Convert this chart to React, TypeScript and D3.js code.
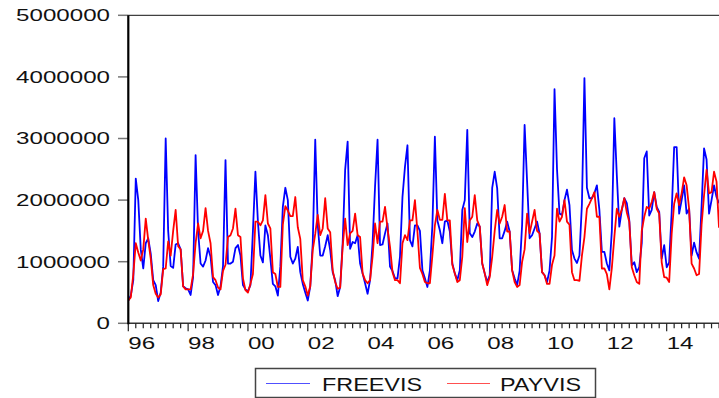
import React from "react";
import * as d3 from "d3";

// Monthly observations, 1996M01 onwards
const seriesNames = ["FREEVIS", "PAYVIS"];
const seriesColors = ["#0000ff", "#ff0000"];
const xTickLabels = ["96", "98", "00", "02", "04", "06", "08", "10", "12", "14"];
const yTickValues = [0, 1000000, 2000000, 3000000, 4000000, 5000000];
const yTickLabels = ["0", "1000000", "2000000", "3000000", "4000000", "5000000"];

const freevis = [
  370000, 450000, 700000, 2350000, 2000000, 1200000, 890000, 1300000, 1380000, 1130000, 700000, 620000,
  360000, 500000, 920000, 3000000, 1500000, 930000, 900000, 1280000, 1300000, 1200000, 600000, 570000,
  550000, 460000, 750000, 2730000, 1500000, 970000, 920000, 1020000, 1220000, 1080000, 670000, 620000,
  460000, 600000, 930000, 2650000, 970000, 970000, 1000000, 1220000, 1270000, 1100000, 620000, 550000,
  520000, 620000, 1500000, 2460000, 1650000, 1100000, 990000, 1590000, 1430000, 1050000, 640000, 600000,
  450000, 920000, 1890000, 2200000, 2000000, 1080000, 970000, 1050000, 1240000, 830000, 640000, 500000,
  370000, 600000, 1300000, 2980000, 1600000, 1100000, 1100000, 1250000, 1430000, 1190000, 830000, 700000,
  440000, 590000, 1300000, 2490000, 2950000, 1210000, 1320000, 1300000, 1430000, 970000, 810000, 650000,
  480000, 700000, 1300000, 2220000, 2980000, 1270000, 1280000, 1460000, 1620000, 920000, 850000, 730000,
  730000, 1080000, 2050000, 2540000, 2890000, 1350000, 1250000, 1590000, 1590000, 1500000, 860000, 730000,
  590000, 860000, 1590000, 3030000, 1670000, 1510000, 1300000, 1650000, 1670000, 1490000, 970000, 810000,
  700000, 860000, 1840000, 2000000, 3140000, 1460000, 1400000, 1490000, 1620000, 1570000, 970000, 810000,
  670000, 780000, 2200000, 2460000, 2190000, 1380000, 1380000, 1500000, 1650000, 1490000, 860000, 730000,
  620000, 850000, 1600000, 3220000, 2300000, 1380000, 1430000, 1540000, 1650000, 1460000, 830000, 780000,
  670000, 860000, 1400000, 3800000, 2500000, 1780000, 1760000, 2000000, 2170000, 1920000, 1190000, 1050000,
  980000, 1100000, 1940000, 3980000, 2200000, 2030000, 2030000, 2110000, 2240000, 1840000, 1160000, 1160000,
  970000, 860000, 1500000, 3330000, 2400000, 1570000, 1840000, 2030000, 1950000, 1670000, 940000, 990000,
  830000, 910000, 1300000, 2680000, 2790000, 1750000, 1840000, 2130000, 1890000, 1810000, 1050000, 1270000,
  910000, 990000, 1800000, 2860000, 2860000, 1780000, 2000000, 2240000, 1780000, 1860000, 1100000, 1310000,
  1150000, 1050000, 1900000, 2840000, 2660000, 1780000, 2000000, 2240000, 2050000, 1950000,
];

const payvis = [
  370000, 420000, 790000, 1300000, 1150000, 1020000, 1200000, 1700000, 1350000, 1050000, 620000, 480000,
  420000, 470000, 880000, 890000, 1330000, 1100000, 1500000, 1840000, 1250000, 1200000, 600000, 550000,
  550000, 550000, 800000, 1300000, 1620000, 1380000, 1500000, 1870000, 1500000, 1300000, 750000, 700000,
  580000, 550000, 850000, 950000, 1400000, 1430000, 1540000, 1860000, 1430000, 1400000, 730000, 540000,
  500000, 640000, 800000, 1650000, 1650000, 1590000, 1670000, 2080000, 1620000, 1540000, 830000, 800000,
  590000, 590000, 1600000, 1900000, 1830000, 1740000, 1740000, 2050000, 1560000, 1370000, 700000, 600000,
  450000, 600000, 1190000, 1450000, 1760000, 1430000, 1540000, 2030000, 1540000, 1480000, 860000, 670000,
  560000, 580000, 1240000, 1700000, 1270000, 1460000, 1500000, 1780000, 1430000, 1400000, 810000, 700000,
  650000, 700000, 1080000, 1620000, 1300000, 1650000, 1650000, 1890000, 1540000, 1240000, 830000, 700000,
  700000, 650000, 1300000, 1430000, 1350000, 1670000, 1670000, 2000000, 1490000, 900000, 800000, 670000,
  650000, 650000, 1100000, 1590000, 1840000, 1680000, 1680000, 2100000, 1670000, 1670000, 950000, 810000,
  670000, 700000, 1080000, 1870000, 1320000, 1670000, 1730000, 2080000, 1670000, 1570000, 970000, 810000,
  620000, 750000, 1080000, 1500000, 1840000, 1620000, 1730000, 1920000, 1490000, 1490000, 860000, 670000,
  590000, 620000, 1000000, 1200000, 1780000, 1460000, 1650000, 1840000, 1500000, 1460000, 830000, 780000,
  640000, 640000, 950000, 1100000, 1860000, 1650000, 1730000, 2000000, 1650000, 1600000, 830000, 700000,
  700000, 690000, 1100000, 1400000, 1860000, 1940000, 2030000, 2130000, 1730000, 1730000, 890000, 890000,
  800000, 550000, 900000, 1400000, 1860000, 1730000, 1850000, 2030000, 1800000, 1650000, 910000, 780000,
  670000, 640000, 1500000, 1730000, 1890000, 1860000, 1970000, 2130000, 1860000, 1780000, 990000, 750000,
  740000, 670000, 1450000, 1940000, 2110000, 1920000, 2110000, 2370000, 2240000, 1860000, 970000, 890000,
  780000, 800000, 1600000, 2080000, 2490000, 2110000, 2130000, 2460000, 2300000, 1550000,
];

const W = 719;
const H = 398;
const FONT = "'Liberation Sans', Arial, sans-serif";

export default function App() {
  const n = freevis.length;
  const left = 128.3;
  const step = 2.4925;
  const x = d3.scaleLinear().domain([0, n - 1]).range([left, left + step * (n - 1)]);
  const y = d3.scaleLinear().domain([0, 5000000]).range([323.3, 15.3]);

  const line = d3
    .line<number>()
    .x((_, i) => x(i))
    .y((d) => y(d));

  const quarterTicks = d3.range(0, n, 3);
  const majorTicks = d3.range(0, n, 24);

  const sx = 1.42;

  return (
    <svg
      width={W}
      height={H}
      style={{ position: "absolute", left: 0, top: 0, background: "#fff" }}
      fontFamily={FONT}
    >
      <defs>
        <clipPath id="plot">
          <rect x={left} y={0} width={W - left} height={330} />
        </clipPath>
      </defs>

      {/* y ticks and labels */}
      {yTickValues.map((v, k) => (
        <g key={"y" + k}>
          <line x1={118} x2={left} y1={y(v)} y2={y(v)} stroke="#777" strokeWidth={1.5} />
          <text
            transform={`translate(110,${y(v) + 5.8}) scale(${sx},1)`}
            textAnchor="end"
            fontSize={17}
            fill="#111"
          >
            {yTickLabels[k]}
          </text>
        </g>
      ))}

      {/* frame: top line, bottom axis */}
      <line x1={left} x2={W} y1={y(5000000)} y2={y(5000000)} stroke="#111" strokeWidth={1} />
      <line x1={left} x2={W} y1={y(0)} y2={y(0)} stroke="#333" strokeWidth={1.5} />

      {/* x ticks */}
      {quarterTicks.map((i) => (
        <line
          key={"xt" + i}
          x1={x(i)}
          x2={x(i)}
          y1={y(0)}
          y2={i % 24 === 0 ? y(0) + 8 : y(0) + 5}
          stroke="#222"
          strokeWidth={1.2}
        />
      ))}
      {majorTicks.map((i, k) => (
        <text
          key={"xl" + i}
          transform={`translate(${x(i)},${y(0) + 25.5}) scale(${sx},1)`}
          fontSize={17}
          fill="#111"
        >
          {xTickLabels[k]}
        </text>
      ))}

      {/* series */}
      <g clipPath="url(#plot)">
        <path d={line(freevis) || ""} fill="none" stroke={seriesColors[0]} strokeWidth={1.8} strokeLinejoin="round" />
        <path d={line(payvis) || ""} fill="none" stroke={seriesColors[1]} strokeWidth={1.8} strokeLinejoin="round" />
      </g>

      <line x1={left} x2={left} y1={y(5000000)} y2={y(0) + 1} stroke="#000" strokeWidth={2.2} />

      {/* legend */}
      <rect x={255.5} y={368.5} width={340} height={29} fill="none" stroke="#444" strokeWidth={1.5} />
      <line x1={266} x2={310} y1={383.5} y2={383.5} stroke="#5050ff" strokeWidth={1.2} />
      <text transform={`translate(322,390.5) scale(1.3,1)`} fontSize={18} fill="#111">
        {seriesNames[0]}
      </text>
      <line x1={447} x2={490} y1={383.5} y2={383.5} stroke="#ff5050" strokeWidth={1.2} />
      <text transform={`translate(500,390.5) scale(1.3,1)`} fontSize={18} fill="#111">
        {seriesNames[1]}
      </text>
    </svg>
  );
}
